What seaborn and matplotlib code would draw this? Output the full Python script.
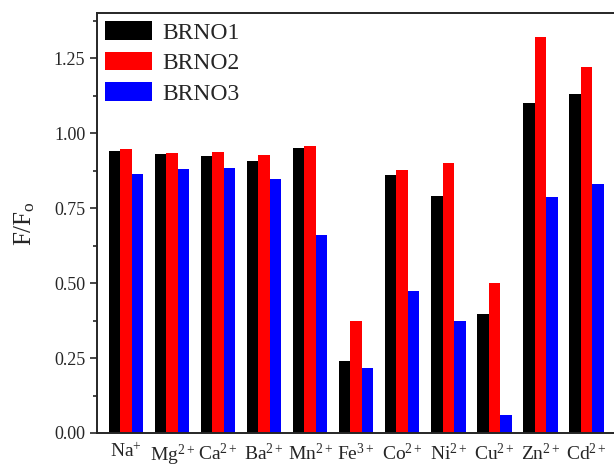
import pandas as pd
import numpy as np
import matplotlib
matplotlib.use('Agg')
import matplotlib.pyplot as plt
import seaborn as sns

# dados
ions = ['Na$^{+}$', 'Mg$^{2+}$', 'Ca$^{2+}$', 'Ba$^{2+}$', 'Mn$^{2+}$', 'Fe$^{3+}$',
        'Co$^{2+}$', 'Ni$^{2+}$', 'Cu$^{2+}$', 'Zn$^{2+}$', 'Cd$^{2+}$']
brno1 = [0.942, 0.932, 0.923, 0.907, 0.951, 0.240, 0.860, 0.790, 0.397, 1.101, 1.131]
brno2 = [0.946, 0.933, 0.938, 0.928, 0.957, 0.374, 0.877, 0.902, 0.501, 1.319, 1.219]
brno3 = [0.863, 0.882, 0.884, 0.846, 0.660, 0.218, 0.473, 0.374, 0.060, 0.787, 0.830]
series = ['BRNO1', 'BRNO2', 'BRNO3']
cores = ['#000000', '#ff0000', '#0000ff']

df = pd.DataFrame({
    'ion': ions * 3,
    'valor': brno1 + brno2 + brno3,
    'amostra': [s for s in series for _ in ions],
})

sns.set_style('ticks')
plt.rcParams['font.family'] = ['Liberation Serif', 'DejaVu Serif']
plt.rcParams['mathtext.fontset'] = 'custom'
plt.rcParams['mathtext.rm'] = 'Liberation Serif'
plt.rcParams['mathtext.it'] = 'Liberation Serif:italic'

fig = plt.figure(figsize=(6.14, 4.68), dpi=100)
ax = fig.add_axes([0.158, 0.0748, 0.842, 0.897])

sns.barplot(data=df, x='ion', y='valor', hue='amostra', palette=cores,
            saturation=1, width=0.75, ax=ax, linewidth=0)

ax.set_xlim(-0.63, 10.6)
ax.set_ylim(0, 1.4)
ax.set_yticks([0, 0.25, 0.5, 0.75, 1.0, 1.25])
ax.set_yticks(np.arange(0.125, 1.4, 0.25), minor=True)
ax.set_yticklabels(['0.00', '0.25', '0.50', '0.75', '1.00', '1.25'], fontsize=13)
ax.tick_params(axis='y', which='major', direction='out', length=5, width=1.2)
ax.tick_params(axis='y', which='minor', direction='out', length=3, width=1.2)
ax.tick_params(axis='x', length=0, labelsize=14, pad=7)
ax.set_xlabel('')
ax.set_ylabel('F/F$_{\\mathrm{o}}$', fontsize=18, labelpad=12)

for lado in ['left', 'top', 'bottom']:
    ax.spines[lado].set_linewidth(1.4)
ax.spines['right'].set_visible(False)

ax.legend(loc='upper left', frameon=False, fontsize=17, handlelength=2.0,
          handleheight=0.8, handletextpad=0.4, labelspacing=0.35,
          borderaxespad=0.05, borderpad=0.3)

plt.savefig('out.png', dpi=100)
